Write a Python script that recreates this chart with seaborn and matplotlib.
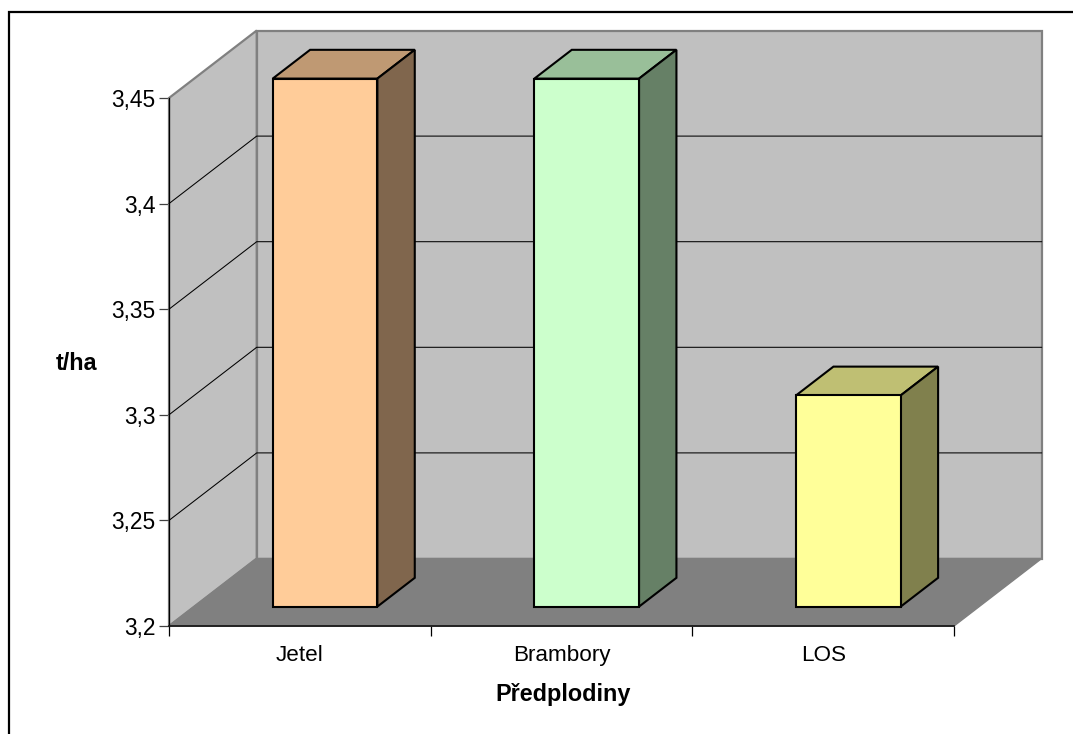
import matplotlib
matplotlib.use("Agg")
import matplotlib.pyplot as plt
import seaborn as sns
import pandas as pd
from matplotlib.patches import Polygon
from matplotlib.lines import Line2D
from matplotlib.transforms import IdentityTransform, Affine2D
from matplotlib.ticker import FixedLocator

categories = ["Jetel", "Brambory", "LOS"]
yields = [3.45, 3.45, 3.30]
front_colors = ["#FFCC99", "#CCFFCC", "#FFFF99"]
top_colors = ["#BF9973", "#99BF99", "#BFBF73"]
side_colors = ["#80664D", "#668066", "#80804D"]
y_ticks = [3.2, 3.25, 3.3, 3.35, 3.4, 3.45]
y_tick_labels = ["3,2", "3,25", "3,3", "3,35", "3,4", "3,45"]
x_title = "Předplodiny"
y_title = "t/ha"

sns.set_theme(style="white")
plt.rcParams["font.family"] = ["Liberation Sans", "DejaVu Sans"]

W, H = 1073, 734
fig = plt.figure(figsize=(W / 100, H / 100), dpi=100, facecolor="white")
ax = fig.add_axes([169 / W, (H - 626) / H, 785 / W, 528 / H])
ax.patch.set_visible(False)

data = pd.DataFrame({"crop": categories, "yield": yields})
sns.barplot(data=data, x="crop", y="yield", hue="crop", palette=front_colors,
            legend=False, width=0.4, edgecolor="black", linewidth=1.5,
            saturation=1, ax=ax)
ax.set_xlim(-0.5, 2.5)
ax.set_ylim(3.2, 3.45)
FLOOR = 3.2

# Oblique projection: full chart depth and the bar's own position inside it
DEPTH = (87.7, 67.5)
BAR_FRONT = 25.2 / 87.7
BAR_BACK = (25.2 + 37.4) / 87.7


def project(x, y, d=0.0):
    px, py = ax.transData.transform((x, y))
    return (px + d * DEPTH[0], py + d * DEPTH[1])


def face(points, **kw):
    kw.setdefault("clip_on", False)
    patch = Polygon([project(*p) for p in points], closed=True,
                    transform=IdentityTransform(), **kw)
    ax.add_patch(patch)
    return patch


x0, x1 = ax.get_xlim()
top = y_ticks[-1]

# Walls and floor of the box
face([(x0, FLOOR, 1), (x1, FLOOR, 1), (x1, top, 1), (x0, top, 1)],
     facecolor="#C0C0C0", edgecolor="#808080", linewidth=1.6, zorder=1)
face([(x0, FLOOR, 0), (x0, FLOOR, 1), (x0, top, 1), (x0, top, 0)],
     facecolor="#C0C0C0", edgecolor="#808080", linewidth=1.6, zorder=1)
face([(x0, FLOOR, 0), (x1, FLOOR, 0), (x1, FLOOR, 1), (x0, FLOOR, 1)],
     facecolor="#808080", edgecolor="#808080", linewidth=1, zorder=1.2)

# Gridlines run along the left wall and across the back wall
for v in y_ticks[1:-1]:
    pts = [project(x0, v, 0), project(x0, v, 1), project(x1, v, 1)]
    ax.plot(*zip(*pts), color="black", lw=0.75, transform=IdentityTransform(),
            clip_on=False, zorder=1.5)

# Front faces come from the bar artists; shifted into the box with side and top faces added
shift = Affine2D().translate(BAR_FRONT * DEPTH[0], BAR_FRONT * DEPTH[1])
for bar, value, top_c, side_c in zip(ax.patches, yields, top_colors, side_colors):
    bar.set_y(FLOOR)
    bar.set_height(value - FLOOR)
    bar.set_transform(ax.transData + shift)
    bar.set_clip_on(False)
    bar.set_zorder(5)
    bar.set_joinstyle("miter")
    left, right = bar.get_x(), bar.get_x() + bar.get_width()
    face([(left, value, BAR_FRONT), (right, value, BAR_FRONT),
          (right, value, BAR_BACK), (left, value, BAR_BACK)],
         facecolor=top_c, edgecolor="black", linewidth=1.5, zorder=4, joinstyle="miter")
    face([(right, FLOOR, BAR_FRONT), (right, FLOOR, BAR_BACK),
          (right, value, BAR_BACK), (right, value, BAR_FRONT)],
         facecolor=side_c, edgecolor="black", linewidth=1.5, zorder=4, joinstyle="miter")

# Axes furniture on the front plane
for side in ("top", "right"):
    ax.spines[side].set_visible(False)
ax.spines["left"].set_color("#000000")
ax.spines["left"].set_linewidth(0.9)
ax.spines["left"].set_zorder(2)
ax.spines["bottom"].set_color("#1A1A1A")
ax.spines["bottom"].set_linewidth(1.3)
ax.spines["bottom"].set_zorder(3)
ax.set_yticks(y_ticks)
ax.set_yticklabels(y_tick_labels)
ax.set_xticks([0, 1, 2])
ax.set_xticklabels(categories)
ax.tick_params(axis="x", which="major", length=0, pad=14, labelsize=16.2, colors="black")
ax.tick_params(axis="y", length=7, width=0.9, pad=2.5, labelsize=16.4, color="#404040",
               labelcolor="black", left=True)
ax.xaxis.set_minor_locator(FixedLocator([-0.5, 0.5, 1.5, 2.5]))
ax.tick_params(axis="x", which="minor", length=7, width=0.9, color="black", bottom=True)
ax.set_xlabel("")
ax.set_ylabel("")
fig.text(563 / W, 1 - 695 / H, x_title, fontsize=16.8, fontweight="bold", color="black",
         ha="center", va="center")
fig.text(77 / W, 1 - 364 / H, y_title, fontsize=16.8, fontweight="bold", color="black",
         ha="center", va="center")

# Chart-area border: only its top and left edges fall inside the figure
fig.add_artist(Line2D([9 / W, 9 / W, 1], [0, 1 - 12 / H, 1 - 12 / H],
                      transform=fig.transFigure, color="black", linewidth=1.6,
                      solid_joinstyle="miter"))

fig.savefig("out.png", dpi=100, facecolor="white")
